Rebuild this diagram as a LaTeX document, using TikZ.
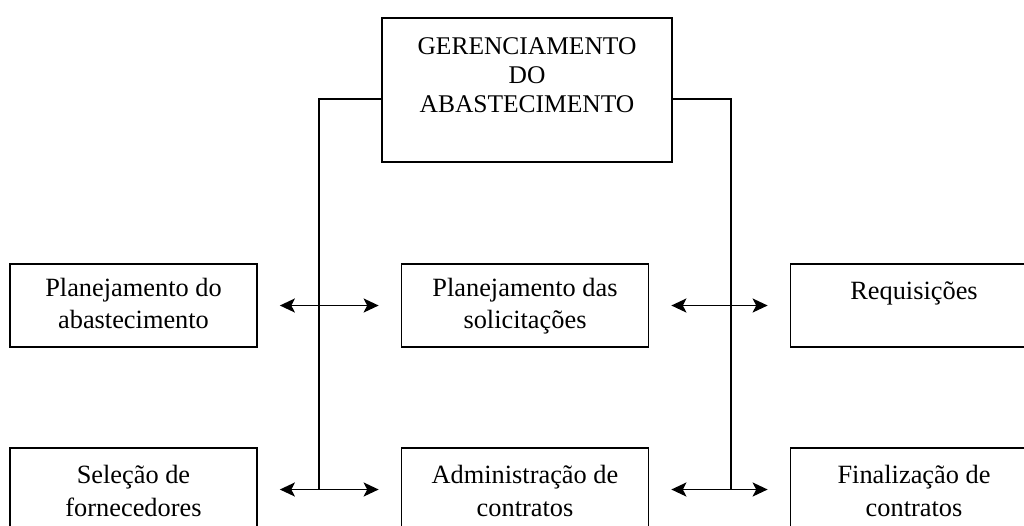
\documentclass[tikz,border=0pt]{standalone}
\usepackage{fontspec}
\setmainfont{Liberation Serif}
\usetikzlibrary{arrows.meta}
\tikzset{
  caixa/.style={draw, line width=1pt, minimum width=4.94cm, minimum height=1.66cm, inner sep=0pt},
  rotulo/.style={anchor=north, align=center, yshift=-5pt, font=\fontsize{15}{18.5}\selectfont},
  linha/.style={line width=1pt},
  seta/.style={line width=1pt, {Stealth[length=3mm,width=2.8mm,inset=0.7mm]}-{Stealth[length=3mm,width=2.8mm,inset=0.7mm]}, shorten <=0.44cm, shorten >=0.44cm}
}
\begin{document}
\begin{tikzpicture}[x=0.02cm, y=-0.02cm]
\useasboundingbox (0,0) rectangle (1024,525);
\clip (0,0) rectangle (1024,525);

\node[caixa, minimum width=5.8cm, minimum height=2.88cm, label={[rotulo, yshift=-3pt, font=\fontsize{14.5}{16.5}\selectfont]north:{GERENCIAMENTO\\DO\\ABASTECIMENTO}}] (topo) at (527,90) {};

\node[caixa, label={[rotulo]north:{Planejamento do\\abastecimento}}] (pa) at (133.5,305.5) {};
\node[caixa, label={[rotulo]north:{Planejamento das\\solicitações}}] (ps) at (525,305.5) {};
\node[caixa, label={[rotulo, yshift=-2pt]north:{Requisições}}] (rq) at (914,305.5) {};
\node[caixa, label={[rotulo, yshift=-2pt]north:{Seleção de\\fornecedores}}] (sf) at (133.5,489.5) {};
\node[caixa, label={[rotulo, yshift=-2pt]north:{Administração de\\contratos}}] (ac) at (525,489.5) {};
\node[caixa, label={[rotulo, yshift=-2pt]north:{Finalização de\\contratos}}] (fc) at (914,489.5) {};

\coordinate (ramoE) at (319,489.5);
\coordinate (ramoD) at (731,489.5);

\draw[linha] ([yshift=-0.18cm]topo.west) -| (ramoE);
\draw[linha] ([yshift=-0.18cm]topo.east) -| (ramoD);

\draw[seta] (pa) -- (ps);
\draw[seta] (ps) -- (rq);
\draw[seta] (sf) -- (ac);
\draw[seta] (ac) -- (fc);
\end{tikzpicture}
\end{document}
